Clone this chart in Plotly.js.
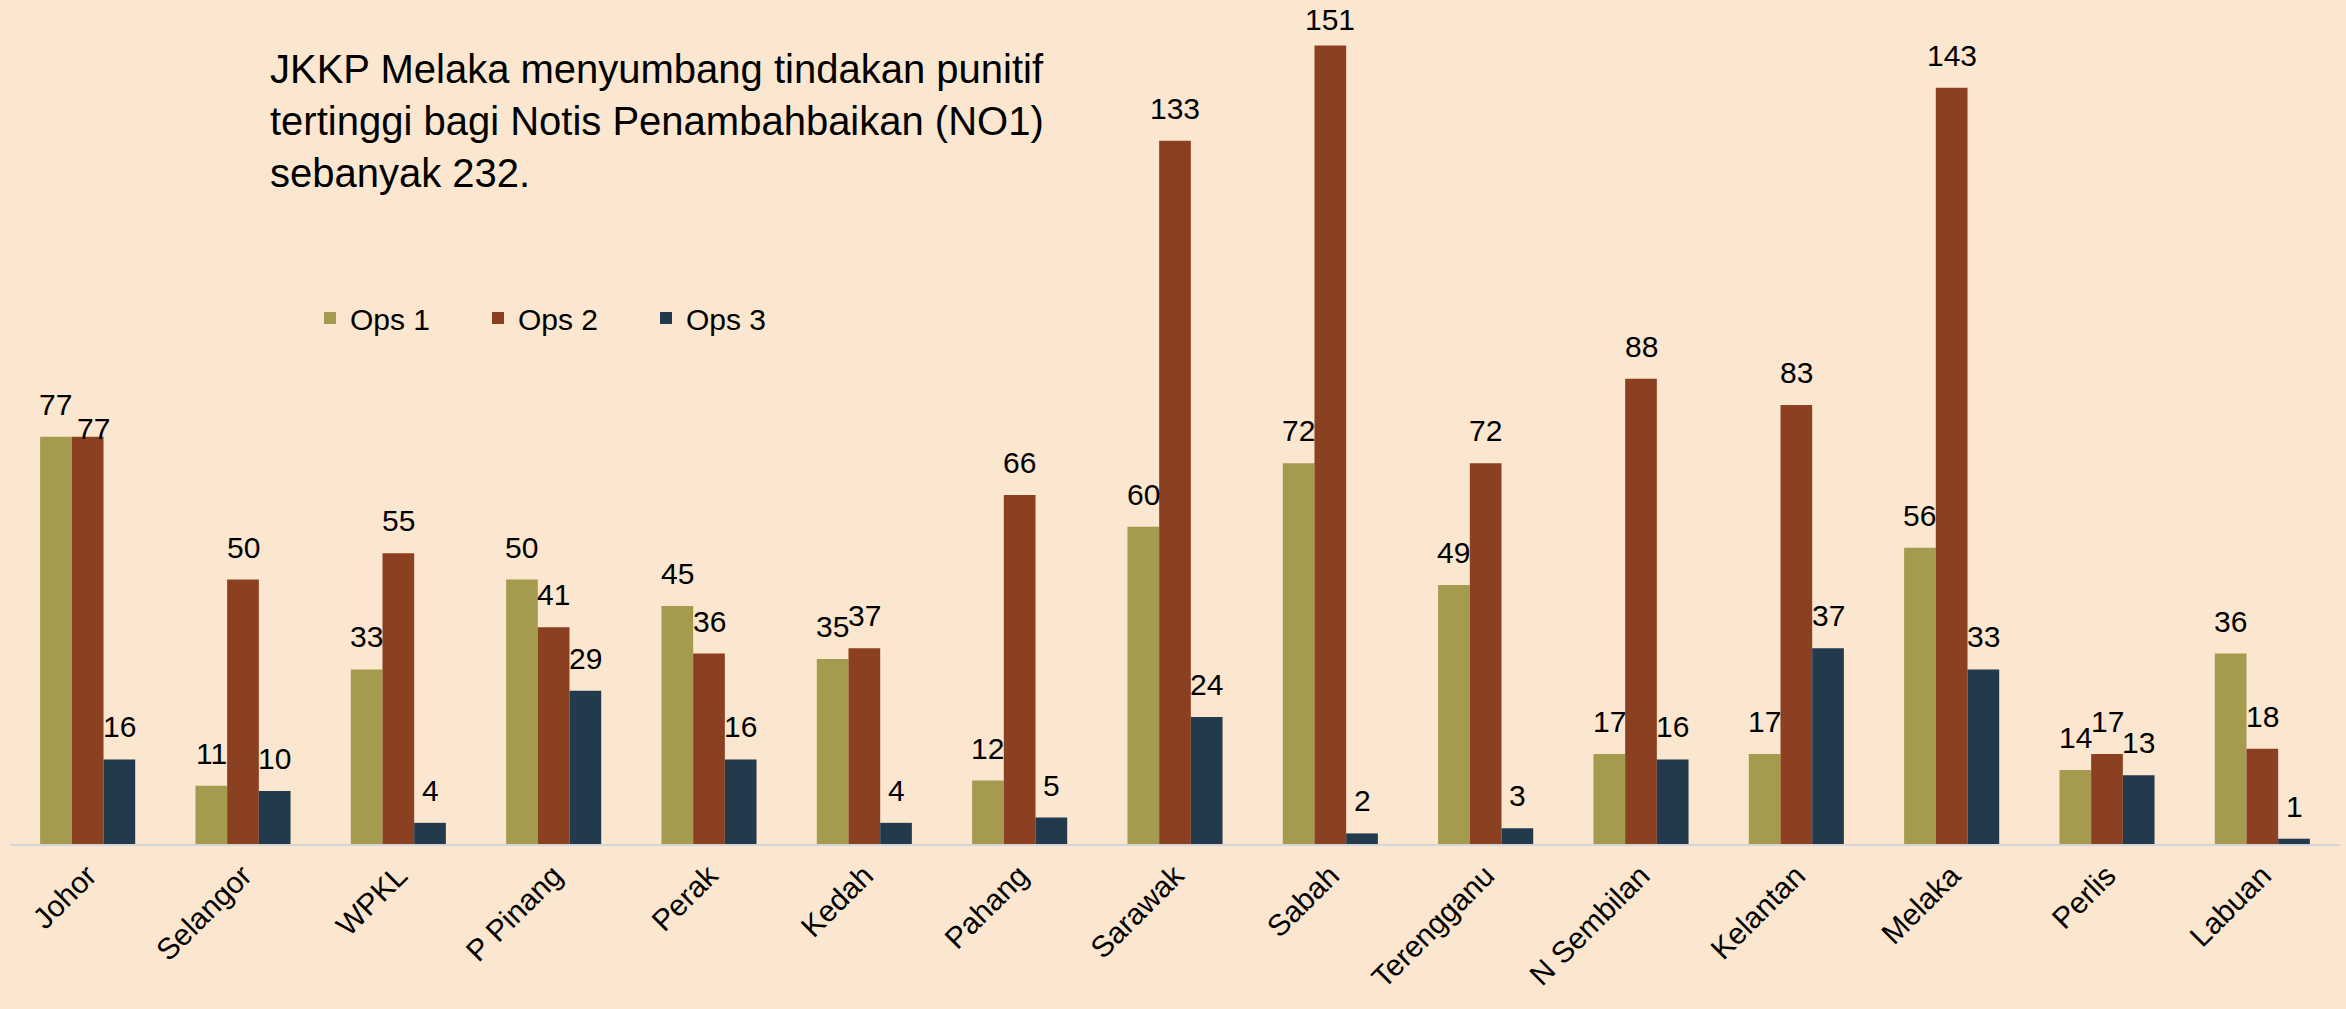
<!DOCTYPE html>
<html>
<head>
<meta charset="utf-8">
<script src="https://cdn.plot.ly/plotly-3.0.1.min.js"></script>
<style>
  html, body { margin: 0; padding: 0; background: #FBE6CF; }
  #chart { width: 2346px; height: 1009px; }
</style>
</head>
<body>
<div id="chart"></div>
<script>
// ---- data ----
const categories = ["Johor", "Selangor", "WPKL", "P Pinang", "Perak", "Kedah", "Pahang", "Sarawak", "Sabah", "Terengganu", "N Sembilan", "Kelantan", "Melaka", "Perlis", "Labuan"];
const ops1 = [77, 11, 33, 50, 45, 35, 12, 60, 72, 49, 17, 17, 56, 14, 36];
const ops2 = [77, 50, 55, 41, 36, 37, 66, 133, 151, 72, 88, 83, 143, 17, 18];
const ops3 = [16, 10, 4, 29, 16, 4, 5, 24, 2, 3, 16, 37, 33, 13, 1];
const seriesNames = ["Ops 1", "Ops 2", "Ops 3"];
const titleText = "JKKP Melaka menyumbang tindakan punitif<br>tertinggi bagi Notis Penambahbaikan (NO1)<br>sebanyak 232.";

// ---- styling ----
const colors = ["#A59B4E", "#8B4022", "#223A4C"];
const W = 2346, H = 1009;
const margin = { l: 10, r: 6, t: 0, b: 165 };
const bargap = 0.388;
const yMax = 159.6;
const font = "Liberation Sans, Arial, sans-serif";
const labelSize = 30;

const seriesVals = [ops1, ops2, ops3];
const traces = seriesVals.map((vals, i) => ({
  type: "bar",
  name: seriesNames[i],
  x: categories,
  y: vals,
  marker: { color: colors[i], line: { width: 0 } },
  hoverinfo: "x+y+name"
}));

// value labels as annotations anchored to data coordinates,
// with simple collision / edge rules (like the spreadsheet's label placement)
const plotW = W - margin.l - margin.r;
const plotH = H - margin.t - margin.b;
const pxPerUnit = plotH / yMax;
const spacing = plotW / categories.length;
const barW = spacing * (1 - bargap) / 3;
const boxH = labelSize * 1.2;
const annotations = [];
categories.forEach((cat, j) => {
  let prev = null;
  seriesVals.forEach((vals, i) => {
    const v = vals[j];
    let xshift = (i - 1) * barW;
    let yshift = 14;
    const barTop = plotH - v * pxPerUnit;
    if (barTop - yshift - boxH < 2) yshift = Math.max(0, barTop - boxH - 2);
    const textW = String(v).length * 0.556 * labelSize;
    if (prev) {
      const dy = Math.abs((v - prev.v) * pxPerUnit + (yshift - prev.yshift));
      const overlapX = (prev.xshift + prev.w / 2) - (xshift - textW / 2);
      if (dy < labelSize * 0.3 && overlapX > 0) {
        xshift += overlapX + 4;
        yshift = -10;
      }
    }
    annotations.push({
      x: cat, y: v, xref: "x", yref: "y",
      text: String(v), showarrow: false,
      xanchor: "center", yanchor: "bottom",
      xshift: xshift, yshift: yshift,
      font: { family: font, size: labelSize, color: "#000000" }
    });
    prev = { v: v, xshift: xshift, yshift: yshift, w: textW };
  });
});

const layout = {
  width: W, height: H,
  margin: margin,
  paper_bgcolor: "#FBE6CF",
  plot_bgcolor: "#FBE6CF",
  barmode: "group",
  bargap: bargap,
  bargroupgap: 0,
  showlegend: true,
  title: {
    text: titleText,
    font: { family: font, size: 40, color: "#000000" },
    xref: "container", yref: "container",
    x: 270 / W, xanchor: "left",
    y: 1 - 83 / H, yanchor: "top",
    pad: { t: 0, b: 0, l: 0, r: 0 }
  },
  legend: {
    orientation: "h",
    xref: "paper", yref: "paper",
    x: (310 - margin.l) / plotW, xanchor: "left",
    y: 1 - 318 / plotH, yanchor: "middle",
    font: { family: font, size: 30, color: "#000000" },
    bgcolor: "rgba(0,0,0,0)",
    entrywidth: 123, entrywidthmode: "pixels",
    itemwidth: 30,
    traceorder: "normal"
  },
  xaxis: {
    type: "category",
    tickangle: -45,
    tickfont: { family: font, size: 30, color: "#000000" },
    showline: true, linecolor: "#D3D5DB", linewidth: 2,
    ticks: "", showgrid: false, zeroline: false,
    fixedrange: true
  },
  yaxis: {
    range: [0, yMax],
    visible: false, showgrid: false, zeroline: false,
    fixedrange: true
  },
  annotations: annotations
};

Plotly.newPlot("chart", traces, layout, { displayModeBar: false, staticPlot: true });
</script>
</body>
</html>
